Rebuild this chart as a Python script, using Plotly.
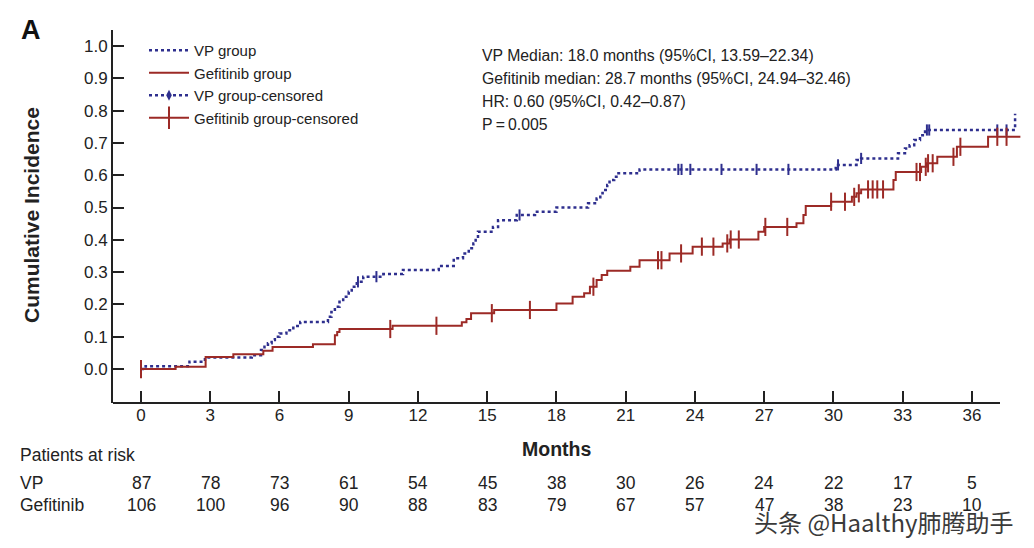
import numpy as np
import plotly.graph_objects as go

# ---------------- data ----------------
vp_times = [0, 0.2, 2.1, 2.77, 4.8, 5.2, 5.35, 5.5, 5.66, 5.8, 6.0, 6.3, 6.6, 6.9,
            8.1, 8.25, 8.4, 8.6, 8.76, 9.0, 9.13, 9.35, 9.63, 10.5, 11.35, 12.9,
            13.55, 13.95, 14.2, 14.4, 14.5, 14.6, 15.25, 15.47, 16.28, 17.07, 18.0,
            19.37, 19.74, 19.9, 20.0, 20.2, 20.3, 20.5, 20.6, 21.6, 30.1, 31.0, 31.2,
            32.8, 33.1, 33.3, 33.5, 33.75, 33.97, 37.87]
vp_vals = [0, 0.009, 0.023, 0.036, 0.043, 0.059, 0.069, 0.080, 0.090, 0.100, 0.110, 0.120, 0.133, 0.146,
           0.162, 0.177, 0.193, 0.208, 0.224, 0.239, 0.255, 0.270, 0.286, 0.294, 0.307, 0.319,
           0.343, 0.358, 0.374, 0.389, 0.405, 0.425, 0.440, 0.461, 0.477, 0.487, 0.500,
           0.513, 0.528, 0.544, 0.554, 0.570, 0.585, 0.595, 0.606, 0.618, 0.632, 0.647, 0.652,
           0.668, 0.683, 0.693, 0.709, 0.724, 0.740, 0.790]
vp_censor_times = [0, 9.4, 10.2, 16.4, 23.28, 23.42, 23.8, 25.15, 26.67, 28.05, 30.2, 31.2,
                   34.05, 34.15, 37.1, 37.5]

gef_times = [0, 1.5, 2.8, 4.0, 5.3, 5.7, 7.45, 8.4, 8.5, 8.6, 10.9, 13.9, 14.1, 14.3, 15.3,
             18.0, 18.7, 19.2, 19.45, 19.74, 19.96, 20.2, 21.2, 21.6, 22.9, 23.9, 25.2, 25.5,
             26.75, 27.0, 28.4, 28.7, 28.8, 29.9, 30.8, 31.0, 31.2, 32.6, 32.7, 33.8, 34.05,
             34.5, 35.35, 36.7, 38.1]
gef_vals = [0, 0.007, 0.037, 0.046, 0.057, 0.068, 0.077, 0.105, 0.115, 0.124, 0.134, 0.145, 0.155, 0.173, 0.183,
            0.203, 0.224, 0.235, 0.255, 0.276, 0.291, 0.304, 0.317, 0.337, 0.358, 0.379, 0.389, 0.401,
            0.425, 0.440, 0.451, 0.477, 0.505, 0.518, 0.533, 0.544, 0.556, 0.585, 0.610, 0.626, 0.637,
            0.657, 0.688, 0.719, 0.719]
gef_censor_times = [0, 10.8, 12.8, 15.2, 16.85, 19.6, 22.4, 22.55, 23.4, 24.3, 24.8, 25.4, 25.55,
                    25.9, 27.05, 28.0, 29.9, 30.5, 30.9, 31.1, 31.5, 31.7, 31.9, 32.15, 33.6, 33.75,
                    34.0, 34.1, 34.3, 35.2, 35.5, 37.1, 37.5]

x_ticks = [0, 3, 6, 9, 12, 15, 18, 21, 24, 27, 30, 33, 36]
y_ticks = [0.0, 0.1, 0.2, 0.3, 0.4, 0.5, 0.6, 0.7, 0.8, 0.9, 1.0]
vp_at_risk = [87, 78, 73, 61, 54, 45, 38, 30, 26, 24, 22, 17, 5]
gef_at_risk = [106, 100, 96, 90, 88, 83, 79, 67, 57, 47, 38, 23, 10]

stats_lines = ["VP Median: 18.0 months (95%CI, 13.59\u201322.34)",
               "Gefitinib median: 28.7 months (95%CI, 24.94\u201332.46)",
               "HR: 0.60 (95%CI, 0.42\u20130.87)",
               "P\u2009=\u20090.005"]

# ---------------- styling ----------------
BLUE = "#2e2f8e"
RED = "#9c2a26"
AXIS = "#222222"
FONT = "Liberation Sans, Arial, sans-serif"

W, H = 1034, 548
L, R, T, B = 113, 1022, 30, 403


def px_x(p):
    return (p - L) / (R - L)


def px_y(p):
    return (B - p) / (B - T)


def step_at(times, vals, t):
    i = int(np.searchsorted(np.asarray(times), t, side="right")) - 1
    return vals[max(i, 0)]


vp_cy = [step_at(vp_times, vp_vals, t) for t in vp_censor_times]
gef_cy = [step_at(gef_times, gef_vals, t) for t in gef_censor_times]

fig = go.Figure()
fig.add_trace(go.Scatter(x=vp_times, y=vp_vals, mode="lines", line_shape="hv",
                         line=dict(color=BLUE, width=2.5, dash="dot"), name="VP group"))
fig.add_trace(go.Scatter(x=gef_times, y=gef_vals, mode="lines", line_shape="hv",
                         line=dict(color=RED, width=2), name="Gefitinib group"))
fig.add_trace(go.Scatter(x=[None], y=[None], mode="lines+markers",
                         line=dict(color=BLUE, width=2.5, dash="dot"),
                         marker=dict(symbol="diamond-tall", size=8, color=BLUE),
                         name="VP group-censored"))
fig.add_trace(go.Scatter(x=[None], y=[None], mode="lines+markers",
                         line=dict(color=RED, width=2),
                         marker=dict(symbol="line-ns-open", size=16, color=RED, line=dict(color=RED, width=2)),
                         name="Gefitinib group-censored"))
fig.add_trace(go.Scatter(x=vp_censor_times, y=vp_cy, mode="markers", showlegend=False,
                         marker=dict(symbol="line-ns-open", size=8, color=BLUE,
                                     line=dict(color=BLUE, width=2))))
fig.add_trace(go.Scatter(x=gef_censor_times, y=gef_cy, mode="markers", showlegend=False,
                         marker=dict(symbol="line-ns-open", size=13, color=RED,
                                     line=dict(color=RED, width=2))))

annotations = []
annotations.append(dict(x=px_x(19), y=px_y(30), xref="paper", yref="paper", text="<b>A</b>",
                        showarrow=False, xanchor="left", yanchor="middle",
                        font=dict(size=27, color="#111", family=FONT)))
annotations.append(dict(x=px_x(31), y=px_y(215), xref="paper", yref="paper",
                        text="<b>Cumulative Incidence</b>", textangle=-90, showarrow=False,
                        xanchor="center", yanchor="middle", font=dict(size=21, color="#222", family=FONT)))
annotations.append(dict(x=px_x(556), y=px_y(449), xref="paper", yref="paper", text="<b>Months</b>",
                        showarrow=False, xanchor="center", yanchor="middle",
                        font=dict(size=19.5, color="#222", family=FONT)))
for i, s in enumerate(stats_lines):
    annotations.append(dict(x=px_x(480), y=px_y(55 + i * 23.3), xref="paper", yref="paper", text=s,
                            showarrow=False, xanchor="left", yanchor="middle",
                            font=dict(size=15.8, color="#222", family=FONT)))
annotations.append(dict(x=px_x(18), y=px_y(455), xref="paper", yref="paper", text="Patients at risk",
                        showarrow=False, xanchor="left", yanchor="middle",
                        font=dict(size=17.5, color="#222", family=FONT)))
annotations.append(dict(x=px_x(18), y=px_y(483), xref="paper", yref="paper", text="VP",
                        showarrow=False, xanchor="left", yanchor="middle",
                        font=dict(size=17.5, color="#222", family=FONT)))
annotations.append(dict(x=px_x(18), y=px_y(505), xref="paper", yref="paper", text="Gefitinib",
                        showarrow=False, xanchor="left", yanchor="middle",
                        font=dict(size=17.5, color="#222", family=FONT)))
for xt, a, b in zip(x_ticks, vp_at_risk, gef_at_risk):
    annotations.append(dict(x=xt, y=px_y(483), xref="x", yref="paper", text=str(a),
                            showarrow=False, xanchor="center", yanchor="middle",
                            font=dict(size=17.5, color="#222", family=FONT)))
    annotations.append(dict(x=xt, y=px_y(505), xref="x", yref="paper", text=str(b),
                            showarrow=False, xanchor="center", yanchor="middle",
                            font=dict(size=17.5, color="#222", family=FONT)))
annotations.append(dict(x=px_x(1016), y=px_y(521), xref="paper", yref="paper",
                        text="头条 @Haalthy肺腾助手", showarrow=False, xanchor="right", yanchor="middle",
                        font=dict(size=24, color="#3a3a3a", family="Noto Sans CJK SC")))

fig.update_layout(
    width=W, height=H,
    margin=dict(l=L, r=W - R, t=T, b=H - B, pad=0),
    paper_bgcolor="white", plot_bgcolor="white",
    font=dict(family=FONT, color="#222"),
    showlegend=True,
    legend=dict(x=px_x(144), y=px_y(34), xanchor="left", yanchor="top",
                bgcolor="rgba(255,255,255,0)", font=dict(size=15, color="#222", family=FONT),
                tracegroupgap=0, itemwidth=40),
    annotations=annotations,
    shapes=[dict(type="line", xref="paper", yref="paper", x0=0, x1=px_x(1000), y0=0, y1=0,
                 line=dict(color=AXIS, width=2))],
)
fig.update_xaxes(range=[-1.213, 38.17], tickmode="array", tickvals=x_ticks,
                 ticks="inside", ticklen=12, tickwidth=2, tickcolor=AXIS,
                 showline=False, showgrid=False, zeroline=False,
                 tickfont=dict(size=17, color="#222", family=FONT))
fig.update_yaxes(range=[-0.105, 1.0495], tickmode="array", tickvals=y_ticks, tickformat=".1f",
                 ticks="inside", ticklen=11, tickwidth=2, tickcolor=AXIS,
                 showline=True, linewidth=2, linecolor=AXIS, showgrid=False, zeroline=False,
                 tickfont=dict(size=17, color="#222", family=FONT))

fig.write_html("out.html", config={"displayModeBar": False},
               post_script="document.body.style.margin='0';document.body.style.overflow='hidden';")
